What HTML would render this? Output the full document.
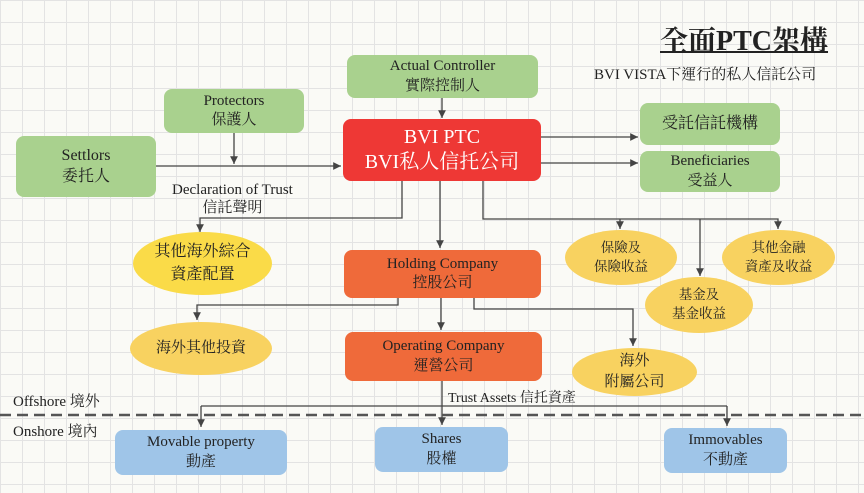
<!DOCTYPE html>
<html><head><meta charset="utf-8"><style>
body{margin:0;width:864px;height:493px;overflow:hidden;background:#fafaf6;
background-image:linear-gradient(#e3e3e3 1px,transparent 1px),linear-gradient(90deg,#e3e3e3 1px,transparent 1px);background-size:22px 22px;
font-family:"Liberation Serif","Noto Serif CJK TC","Noto Serif CJK SC",serif;color:#222;position:relative}
.b{position:absolute;display:flex;flex-direction:column;align-items:center;justify-content:center;text-align:center;border-radius:8px;line-height:1.3;font-size:15px}
.g{background:#a9d18e}
.o{background:#ef6a3a;color:#222}
.bl{background:#9fc5e8}
.e{position:absolute;display:flex;flex-direction:column;align-items:center;justify-content:center;text-align:center;border-radius:50%;background:#f8d260;font-size:13.5px;line-height:1.4}
.t{position:absolute;white-space:nowrap}
svg{position:absolute;left:0;top:0}
</style></head><body>
<svg width="864" height="493">
<defs><marker id="a" markerWidth="8" markerHeight="8" refX="6" refY="3" orient="auto"><path d="M0,0 L6,3 L0,6z" fill="#444"/></marker></defs>
<g stroke="#444" stroke-width="1.3" fill="none">
<path d="M442 98 V118" marker-end="url(#a)"/>
<path d="M156 166 H341" marker-end="url(#a)"/>
<path d="M234 133 V164" marker-end="url(#a)"/>
<path d="M541 137 H638" marker-end="url(#a)"/>
<path d="M541 163 H638" marker-end="url(#a)"/>
<path d="M402 181 V218 H200 V232" marker-end="url(#a)"/>
<path d="M440 181 V248" marker-end="url(#a)"/>
<path d="M483 181 V219 H778 V229" marker-end="url(#a)"/>
<path d="M620 219 V229" marker-end="url(#a)"/>
<path d="M700 219 V276" marker-end="url(#a)"/>
<path d="M398 298 V305 H197 V320" marker-end="url(#a)"/>
<path d="M441 298 V330" marker-end="url(#a)"/>
<path d="M474 298 V309 H633 V346" marker-end="url(#a)"/>
<path d="M442 381 V425" marker-end="url(#a)"/>
<path d="M201 406 H727"/>
<path d="M201 406 V427" marker-end="url(#a)"/>
<path d="M727 406 V426" marker-end="url(#a)"/>
</g>
<path d="M0 415 H864" stroke="#555" stroke-width="2.5" stroke-dasharray="11 6"/>
</svg>
<div class="t" style="left:660px;top:19px;font-size:28px;font-weight:bold;text-decoration:underline;text-decoration-thickness:2px">全面PTC架構</div>
<div class="t" style="left:594px;top:63px;font-size:15px">BVI VISTA下運行的私人信託公司</div>
<div class="b g" style="left:347px;top:55px;width:191px;height:43px">Actual Controller<br>實際控制人</div>
<div class="b g" style="left:164px;top:89px;width:140px;height:44px">Protectors<br>保護人</div>
<div class="b g" style="left:16px;top:136px;width:140px;height:61px;font-size:16px">Settlors<br>委托人</div>
<div class="b" style="left:343px;top:119px;width:198px;height:62px;background:#ee3835;color:#fff;font-size:20px;line-height:1.25">BVI PTC<br>BVI私人信托公司</div>
<div class="b g" style="left:640px;top:103px;width:140px;height:42px;font-size:16px">受託信託機構</div>
<div class="b g" style="left:640px;top:151px;width:140px;height:41px">Beneficiaries<br>受益人</div>
<div class="t" style="left:172px;top:181px;font-size:15px;line-height:1.2;text-align:center">Declaration of Trust<br>信託聲明</div>
<div class="e" style="left:133px;top:232px;width:139px;height:63px;background:#fadb48;font-size:16px">其他海外綜合<br>資產配置</div>
<div class="b o" style="left:344px;top:250px;width:197px;height:48px">Holding Company<br>控股公司</div>
<div class="e" style="left:565px;top:230px;width:112px;height:55px">保險及<br>保險收益</div>
<div class="e" style="left:645px;top:277px;width:108px;height:56px">基金及<br>基金收益</div>
<div class="e" style="left:722px;top:230px;width:113px;height:55px">其他金融<br>資產及收益</div>
<div class="e" style="left:130px;top:322px;width:142px;height:53px;font-size:15px">海外其他投資</div>
<div class="b o" style="left:345px;top:332px;width:197px;height:49px">Operating Company<br>運營公司</div>
<div class="e" style="left:572px;top:348px;width:125px;height:48px;font-size:15px">海外<br>附屬公司</div>
<div class="t" style="left:448px;top:387px;font-size:14px">Trust Assets 信托資產</div>
<div class="t" style="left:13px;top:390px;font-size:15px">Offshore 境外</div>
<div class="t" style="left:13px;top:420px;font-size:15px">Onshore 境內</div>
<div class="b bl" style="left:115px;top:430px;width:172px;height:45px">Movable property<br>動產</div>
<div class="b bl" style="left:375px;top:427px;width:133px;height:45px">Shares<br>股權</div>
<div class="b bl" style="left:664px;top:428px;width:123px;height:45px">Immovables<br>不動產</div>
</body></html>
